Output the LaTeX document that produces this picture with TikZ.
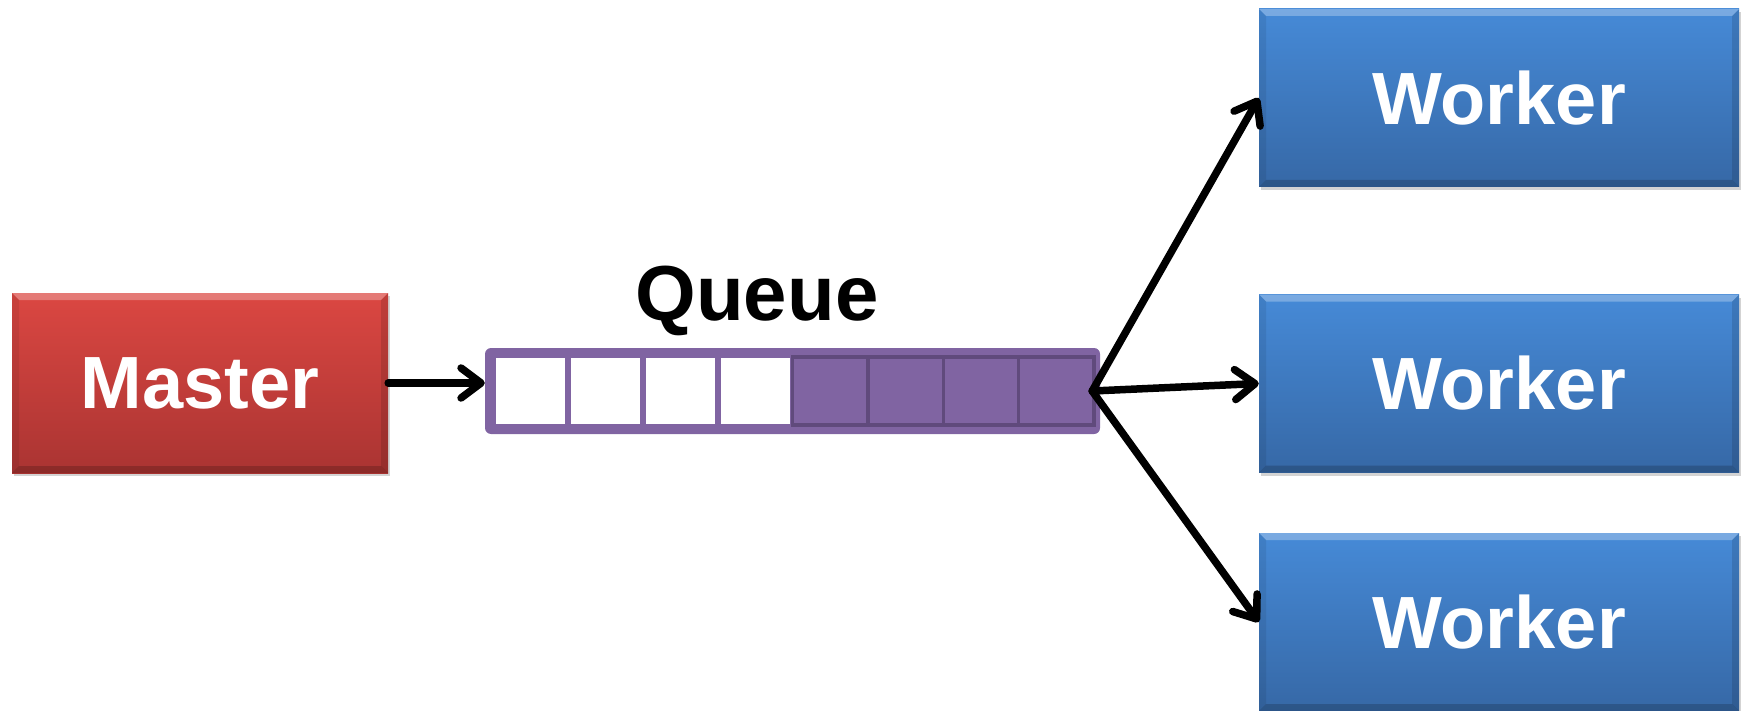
\documentclass[tikz,border=0pt]{standalone}
\usepackage{fontspec}
\setmainfont{Liberation Sans}
\usetikzlibrary{arrows.meta,shadows}

\definecolor{masterTop}{RGB}{219,71,66}
\definecolor{masterBot}{RGB}{170,52,50}
\definecolor{workerTop}{RGB}{70,138,215}
\definecolor{workerBot}{RGB}{54,104,166}
\definecolor{queuePurple}{RGB}{128,100,162}
\definecolor{queueDark}{RGB}{96,74,124}

\tikzset{
  bevel/.style={path picture={
    \def\pb{path picture bounding box}
    % lit top edge
    \fill[white,opacity=.28] (\pb.north west) -- (\pb.north east)
      -- ([xshift=-7pt,yshift=-7pt]\pb.north east) -- ([xshift=7pt,yshift=-7pt]\pb.north west) -- cycle;
    % shaded bottom edge
    \fill[black,opacity=.18] (\pb.south west) -- (\pb.south east)
      -- ([xshift=-7pt,yshift=7pt]\pb.south east) -- ([xshift=7pt,yshift=7pt]\pb.south west) -- cycle;
    % side edges
    \fill[black,opacity=.08] (\pb.north west) -- ([xshift=7pt,yshift=-7pt]\pb.north west)
      -- ([xshift=7pt,yshift=7pt]\pb.south west) -- (\pb.south west) -- cycle;
    \fill[black,opacity=.12] (\pb.north east) -- ([xshift=-7pt,yshift=-7pt]\pb.north east)
      -- ([xshift=-7pt,yshift=7pt]\pb.south east) -- (\pb.south east) -- cycle;
  }},
  box/.style={rectangle, inner sep=0pt, bevel, text=white,
    font=\bfseries\fontsize{74}{80}\selectfont,
    drop shadow={opacity=.35, shadow xshift=2pt, shadow yshift=-3pt}},
  masterbox/.style={box, minimum width=376pt, minimum height=180pt,
    top color=masterTop, bottom color=masterBot},
  workerbox/.style={box, minimum width=480pt, minimum height=178pt,
    top color=workerTop, bottom color=workerBot},
  queueframe/.style={rectangle, rounded corners=6pt, fill=queuePurple,
    minimum width=615pt, minimum height=86pt, inner sep=0pt},
  freecell/.style={rectangle, fill=white, minimum width=69pt, minimum height=66pt, inner sep=0pt},
  fullcell/.style={rectangle, fill=queuePurple, draw=queueDark, line width=3.5pt,
    minimum width=75.4pt, minimum height=68pt, inner sep=0pt},
  flow/.style={line width=7.5pt, line cap=round, line join=round,
    -{Straight Barb[length=20pt,width=30pt,line cap=round,line join=round]}},
}

\begin{document}
\begin{tikzpicture}[x=1pt,y=-1pt]
  \useasboundingbox (0,0) rectangle (1742,711);
  \begin{scope}
    \clip (0,0) rectangle (1742,711);

    % producer
    \node[masterbox] (master) at (200,383) {Master};

    % consumers
    \node[workerbox] (w1) at (1499,98)    {Worker};
    \node[workerbox] (w2) at (1499,383.5) {Worker};
    \node[workerbox] (w3) at (1499,622)   {Worker};

    % the queue with four empty and four occupied slots
    \node[queueframe] (queue) at (792.5,391) {};
    \foreach \i in {1,...,4}
      \node[freecell] (c\i) at ({495.5+34.5+(\i-1)*75.2},391) {};
    \foreach \i in {5,...,8}
      \node[fullcell] (c\i) at ({792.5+37.7+(\i-5)*75.4},391) {};
    \node[font=\bfseries\fontsize{78}{84}\selectfont, anchor=base] (qlabel) at (757,320) {Queue};

    % connectors
    \draw[flow] (master.east) -- (master.east -| queue.west);
    \draw[flow] ([xshift=-8pt]queue.east) -- (w1.west);
    \draw[flow] ([xshift=-8pt]queue.east) -- (w2.west);
    \draw[flow] ([xshift=-8pt]queue.east) -- (w3.west);
  \end{scope}
\end{tikzpicture}
\end{document}
